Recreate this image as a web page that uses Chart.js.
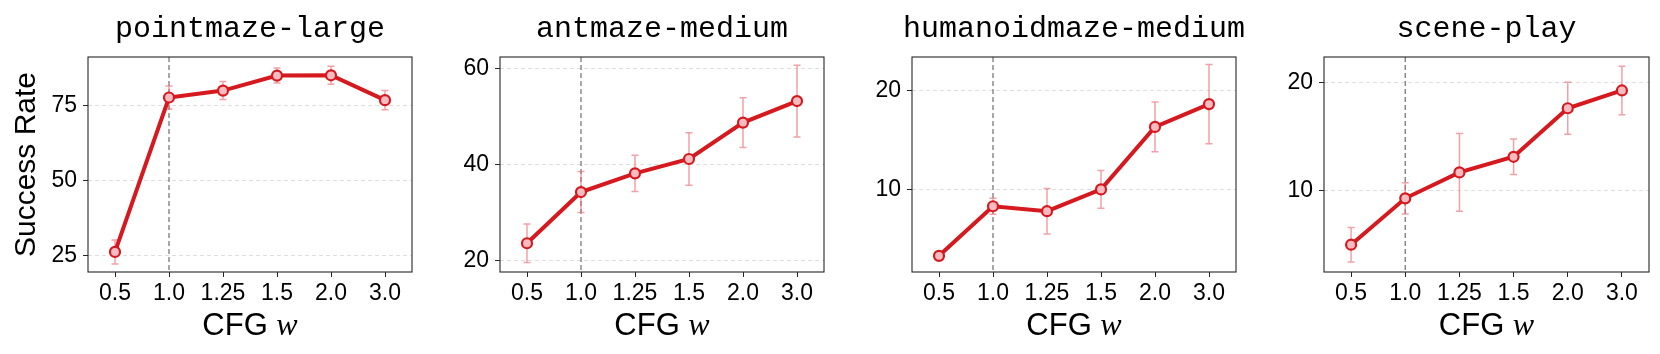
<!DOCTYPE html>
<html>
<head>
<meta charset="utf-8">
<script src="https://cdn.jsdelivr.net/npm/chart.js@4.4.1/dist/chart.umd.min.js"></script>
<style>
  html, body { margin: 0; padding: 0; background: #fff; }
  #wrap { position: relative; width: 1660px; height: 354px; overflow: hidden; }
  #wrap canvas { position: absolute; top: 0; }
</style>
</head>
<body>
<div id="wrap">
  <canvas id="c0" width="440" height="354" style="left:0px"></canvas>
  <canvas id="c1" width="440" height="354" style="left:412px"></canvas>
  <canvas id="c2" width="440" height="354" style="left:824px"></canvas>
  <canvas id="c3" width="440" height="354" style="left:1236px"></canvas>
</div>
<script>
// CFG guidance weights (x categories)
const cfgLabels = ['0.5', '1.0', '1.25', '1.5', '2.0', '3.0'];
const refLabel = '1.0';

const panelTitles = ['pointmaze-large', 'antmaze-medium', 'humanoidmaze-medium', 'scene-play'];

// success rate means and error half-widths
const pointmazeMean = [26.3, 77.8, 80.1, 85.1, 85.2, 76.9];
const pointmazeErr  = [4.0, 3.8, 3.0, 2.5, 3.0, 3.2];
const antmazeMean   = [23.6, 34.3, 38.2, 41.2, 48.8, 53.3];
const antmazeErr    = [4.0, 4.3, 3.8, 5.5, 5.2, 7.5];
const humanoidMean  = [3.3, 8.3, 7.8, 10.0, 16.3, 18.6];
const humanoidErr   = [0.3, 0.8, 2.3, 1.9, 2.5, 4.0];
const sceneMean     = [5.0, 9.3, 11.7, 13.15, 17.65, 19.3];
const sceneErr      = [1.6, 1.45, 3.6, 1.65, 2.4, 2.25];

// y tick labels per panel
const pointmazeTicks = [25, 50, 75];
const antmazeTicks   = [20, 40, 60];
const humanoidTicks  = [10, 20];
const sceneTicks     = [10, 20];

// y axis limits per panel
const pointmazeRange = [19.6, 91.3];
const antmazeRange   = [17.6, 62.5];
const humanoidRange  = [1.67, 23.35];
const sceneRange     = [2.47, 22.4];

const RED = '#d6191e';
const PINK = '#f6bcc1';
const ERR = 'rgba(232, 98, 108, 0.6)';
const SANS = '"Liberation Sans", Arial, Helvetica, sans-serif';

const panelDecor = {
  id: 'panelDecor',
  beforeDatasetsDraw(chart, args, opts) {
    const { ctx, chartArea: a, scales: { x, y } } = chart;
    ctx.save();
    // dashed reference line at w = 1.0
    const xr = x.getPixelForValue(cfgLabels.indexOf(refLabel));
    ctx.strokeStyle = '#7a7a7a';
    ctx.lineWidth = 1.3;
    ctx.setLineDash([5, 3]);
    ctx.beginPath();
    ctx.moveTo(xr, a.top);
    ctx.lineTo(xr, a.bottom);
    ctx.stroke();
    // error bars
    ctx.setLineDash([]);
    ctx.strokeStyle = ERR;
    ctx.lineWidth = 1.5;
    const means = chart.data.datasets[0].data;
    means.forEach((m, i) => {
      const px = x.getPixelForValue(i);
      const yt = y.getPixelForValue(m + opts.errors[i]);
      const yb = y.getPixelForValue(m - opts.errors[i]);
      ctx.beginPath();
      ctx.moveTo(px, yt); ctx.lineTo(px, yb);
      ctx.moveTo(px - 3.5, yt); ctx.lineTo(px + 3.5, yt);
      ctx.moveTo(px - 3.5, yb); ctx.lineTo(px + 3.5, yb);
      ctx.stroke();
    });
    ctx.restore();
  },
  afterDraw(chart, args, opts) {
    const { ctx, chartArea: a } = chart;
    ctx.save();
    // frame
    ctx.strokeStyle = '#262626';
    ctx.lineWidth = 1.1;
    ctx.strokeRect(a.left, a.top, a.right - a.left, a.bottom - a.top);
    const cx = (a.left + a.right) / 2;
    // panel title
    ctx.fillStyle = '#000';
    ctx.font = '30px "Liberation Mono", "Courier New", monospace';
    ctx.textAlign = 'center';
    ctx.textBaseline = 'alphabetic';
    ctx.fillText(opts.title, cx, 37);
    // x axis title: CFG w (w in italic serif)
    const part1 = 'CFG ';
    const part2 = 'w';
    const f1 = '31px ' + SANS;
    const f2 = 'italic 32px "Liberation Serif", "DejaVu Serif", serif';
    ctx.font = f1;
    const w1 = ctx.measureText(part1).width;
    ctx.font = f2;
    const w2 = ctx.measureText(part2).width;
    const x0 = cx - (w1 + w2) / 2;
    ctx.textAlign = 'left';
    ctx.font = f1;
    ctx.fillText(part1, x0, 335);
    ctx.font = f2;
    ctx.fillText(part2, x0 + w1, 335);
    // y axis title
    if (opts.yTitle) {
      ctx.translate(35, (a.top + a.bottom) / 2);
      ctx.rotate(-Math.PI / 2);
      ctx.textAlign = 'center';
      ctx.font = '30px ' + SANS;
      ctx.fillText(opts.yTitle, 0, 0);
    }
    ctx.restore();
  }
};

function makePanel(id, title, means, errs, ticks, range, yTitle, padRight) {
  new Chart(document.getElementById(id), {
    type: 'line',
    data: {
      labels: cfgLabels,
      datasets: [{
        data: means,
        borderColor: RED,
        borderWidth: 4,
        pointRadius: 5,
        pointBorderWidth: 2.2,
        pointBackgroundColor: PINK,
        pointBorderColor: RED,
        tension: 0,
        clip: false
      }]
    },
    options: {
      responsive: false,
      animation: false,
      events: [],
      layout: { padding: { left: 0, right: padRight, top: 57, bottom: 0 } },
      plugins: {
        legend: { display: false },
        tooltip: { enabled: false },
        panelDecor: { title: title, errors: errs, yTitle: yTitle }
      },
      scales: {
        x: {
          type: 'category',
          offset: true,
          afterFit: (s) => { s.height = 82; },
          grid: {
            drawOnChartArea: false,
            drawTicks: true,
            tickLength: 5,
            tickColor: '#262626',
            tickWidth: 1
          },
          border: { display: false },
          ticks: {
            color: '#000',
            font: { family: SANS, size: 23 },
            padding: 3,
            maxRotation: 0,
            autoSkip: false
          }
        },
        y: {
          min: range[0],
          max: range[1],
          afterFit: (s) => { s.width = 88; },
          afterBuildTicks: (s) => { s.ticks = ticks.map(v => ({ value: v })); },
          grid: {
            color: '#dedede',
            lineWidth: 1,
            drawTicks: true,
            tickLength: 5,
            tickColor: '#262626',
            tickWidth: 1,
            tickBorderDash: []
          },
          border: { display: false, dash: [4, 3] },
          ticks: {
            color: '#000',
            font: { family: SANS, size: 23 },
            padding: 6
          }
        }
      }
    },
    plugins: [panelDecor]
  });
}

makePanel('c0', panelTitles[0], pointmazeMean, pointmazeErr, pointmazeTicks, pointmazeRange, 'Success Rate', 28);
makePanel('c1', panelTitles[1], antmazeMean, antmazeErr, antmazeTicks, antmazeRange, null, 28);
makePanel('c2', panelTitles[2], humanoidMean, humanoidErr, humanoidTicks, humanoidRange, null, 28);
makePanel('c3', panelTitles[3], sceneMean, sceneErr, sceneTicks, sceneRange, null, 27);
</script>
</body>
</html>
